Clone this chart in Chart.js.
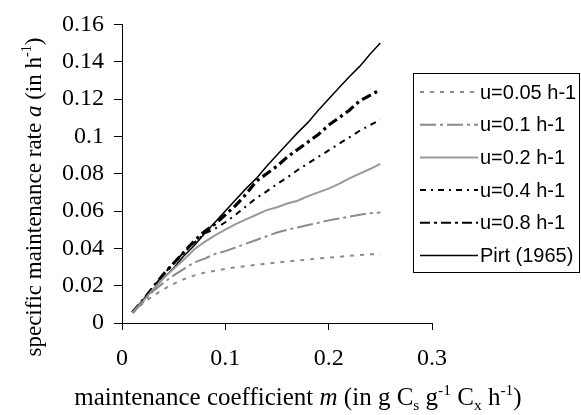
<!DOCTYPE html>
<html>
<head>
<meta charset="utf-8">
<script src="https://cdn.jsdelivr.net/npm/chart.js@4/dist/chart.umd.min.js"></script>
<style>
html,body{margin:0;padding:0;background:#fff;}
canvas{display:block;}
</style>
</head>
<body>
<canvas id="c" width="581" height="415"></canvas>
<script>
// maintenance coefficient m
const mValues = [0.01,0.02,0.03,0.04,0.05,0.06,0.07,0.08,0.09,0.10,0.11,0.12,0.13,0.14,0.15,0.16,0.17,0.18,0.19,0.20,0.21,0.22,0.23,0.24,0.25];
const u005 = [0.0056,0.0105,0.0145,0.018,0.021,0.0235,0.0255,0.027,0.028,0.029,0.0298,0.0305,0.0312,0.0318,0.0324,0.033,0.0335,0.034,0.0346,0.035,0.0355,0.036,0.0364,0.0368,0.037];
const u01  = [0.0056,0.011,0.017,0.0215,0.0255,0.029,0.0325,0.0345,0.037,0.0385,0.0405,0.0425,0.0445,0.0465,0.0485,0.050,0.0512,0.0525,0.0537,0.055,0.056,0.057,0.058,0.0588,0.0592];
const u02  = [0.0056,0.0115,0.018,0.024,0.029,0.034,0.0395,0.0435,0.047,0.050,0.053,0.0555,0.058,0.0605,0.062,0.064,0.0655,0.068,0.070,0.072,0.0745,0.0775,0.080,0.0825,0.0853];
const u04  = [0.0056,0.012,0.019,0.026,0.032,0.038,0.043,0.048,0.0505,0.054,0.058,0.0625,0.067,0.0705,0.0745,0.078,0.082,0.0855,0.089,0.0925,0.096,0.0995,0.103,0.106,0.109];
const u08  = [0.0056,0.012,0.019,0.026,0.032,0.038,0.044,0.049,0.053,0.058,0.063,0.069,0.076,0.080,0.084,0.089,0.093,0.097,0.101,0.106,0.110,0.114,0.119,0.122,0.125];
const pirt = [0.006,0.012,0.018,0.024,0.0295,0.036,0.0415,0.048,0.054,0.060,0.066,0.072,0.0775,0.084,0.090,0.096,0.102,0.1075,0.114,0.120,0.126,0.132,0.1375,0.144,0.150];
const seriesLabels = ['u=0.05 h-1','u=0.1 h-1','u=0.2 h-1','u=0.4 h-1','u=0.8 h-1','Pirt (1965)'];
const xTickLabels = ['0','0.1','0.2','0.3'];
const yTickLabels = ['0','0.02','0.04','0.06','0.08','0.1','0.12','0.14','0.16'];

const toPts = arr => arr.map((v,i)=>({x:mValues[i], y:v}));
const styles = [
  {color:'#8c8c8c', width:2, dash:[4,6]},
  {color:'#8c8c8c', width:2, dash:[16,4,3,4]},
  {color:'#999999', width:2, dash:[]},
  {color:'#000000', width:2, dash:[6,5,2,5]},
  {color:'#000000', width:3.2, dash:[10,4,3,4]},
  {color:'#000000', width:1.5, dash:[]}
];
const seriesData = [u005,u01,u02,u04,u08,pirt];
const datasets = seriesData.map((d,i)=>({
  label: seriesLabels[i],
  data: toPts(d),
  borderColor: styles[i].color,
  borderWidth: styles[i].width,
  borderDash: styles[i].dash,
  pointRadius: 0,
  fill: false,
  tension: 0
}));

const SERIF = '"Liberation Serif","Times New Roman",serif';

function drawRich(ctx, segs, size, x, y, align) {
  const parts = segs.map(s=>{
    const fs = (s.pos==='sub'||s.pos==='sup') ? size*0.62 : size;
    const font = (s.it?'italic ':'') + fs + 'px ' + SERIF;
    ctx.font = font;
    return {t:s.t, font, w:ctx.measureText(s.t).width, dy: s.pos==='sub'? size*0.18 : (s.pos==='sup'? -size*0.42 : 0)};
  });
  const total = parts.reduce((a,p)=>a+p.w,0);
  let cx = align==='center' ? x - total/2 : x;
  ctx.textBaseline = 'alphabetic';
  ctx.textAlign = 'left';
  ctx.fillStyle = '#000';
  parts.forEach(p=>{ ctx.font = p.font; ctx.fillText(p.t, cx, y + p.dy); cx += p.w; });
}

const extras = {
  id:'extras',
  afterDraw(chart){
    const ctx = chart.ctx;
    ctx.save();
    // x title
    drawRich(ctx, [
      {t:'maintenance coefficient '},{t:'m',it:true},{t:' (in g C'},{t:'s',pos:'sub'},
      {t:' g'},{t:'-1',pos:'sup'},{t:' C'},{t:'x',pos:'sub'},{t:' h'},{t:'-1',pos:'sup'},{t:')'}
    ], 25, 298, 405, 'center');
    // y title
    ctx.save();
    ctx.translate(41, 197);
    ctx.rotate(-Math.PI/2);
    drawRich(ctx, [
      {t:'specific maintenance rate '},{t:'a',it:true},{t:' (in h'},{t:'-1',pos:'sup'},{t:')'}
    ], 23, 0, 0, 'center');
    ctx.restore();
    // legend
    const lx = 413.5, ly = 73.5, lw = 166, lh = 199;
    ctx.lineWidth = 1; ctx.strokeStyle = '#000'; ctx.setLineDash([]);
    ctx.strokeRect(lx, ly, lw, lh);
    ctx.font = '20px "Liberation Sans",Arial,sans-serif';
    ctx.textBaseline = 'middle'; ctx.textAlign = 'left';
    chart.data.datasets.forEach((ds,i)=>{
      const yy = 92 + i*32.7;
      ctx.beginPath();
      ctx.strokeStyle = ds.borderColor;
      ctx.lineWidth = Math.min(ds.borderWidth, 2);
      ctx.setLineDash(ds.borderDash);
      ctx.moveTo(420, yy); ctx.lineTo(478, yy); ctx.stroke();
      ctx.setLineDash([]);
      ctx.fillStyle = '#000';
      ctx.fillText(ds.label, 480, yy+1);
    });
    ctx.restore();
  }
};

new Chart(document.getElementById('c'), {
  type:'line',
  data:{datasets},
  options:{
    responsive:false,
    animation:false,
    layout:{padding:{top:17,right:149,left:0,bottom:0}},
    plugins:{legend:{display:false},tooltip:{enabled:false},title:{display:false}},
    scales:{
      x:{
        type:'linear', min:0, max:0.3,
        afterFit(s){ s.height = 92; },
        afterBuildTicks(s){ s.ticks = xTickLabels.map(v=>({value:parseFloat(v)})); },
        ticks:{ color:'#000', font:{family:SERIF,size:24}, padding:14, maxRotation:0,
          callback:(v,i)=>xTickLabels[i] },
        grid:{display:true, drawOnChartArea:false, drawTicks:true, tickLength:7, color:'#000', lineWidth:1},
        border:{display:true, color:'#000', width:1}
      },
      y:{
        type:'linear', min:0, max:0.16,
        afterFit(s){ s.width = 122; },
        afterBuildTicks(s){ s.ticks = yTickLabels.map(v=>({value:parseFloat(v)})); },
        ticks:{ color:'#000', font:{family:SERIF,size:24}, padding:10,
          callback:(v,i)=>yTickLabels[i] },
        grid:{display:true, drawOnChartArea:false, drawTicks:true, tickLength:8, color:'#000', lineWidth:1},
        border:{display:true, color:'#000', width:1}
      }
    }
  },
  plugins:[extras]
});
</script>
</body>
</html>
